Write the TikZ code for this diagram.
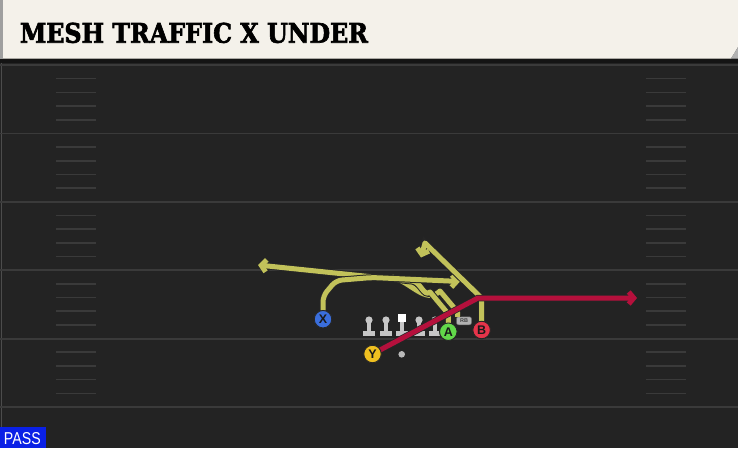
\documentclass[tikz,border=0pt]{standalone}
\usepackage{graphicx}
\usepackage{fontspec}
\setsansfont{Liberation Sans}
\newfontfamily\titlefont{DejaVu Serif}[BoldFeatures={FakeBold=2.5}]
\usetikzlibrary{arrows.meta}

\definecolor{fieldbg}{HTML}{232323}
\definecolor{headcream}{HTML}{F4F1EA}
\definecolor{yardgray}{HTML}{3A3A3A}
\definecolor{routeyellow}{HTML}{C2C25A}
\definecolor{routered}{HTML}{B5103C}
\definecolor{linemangray}{HTML}{C6C6C6}
\definecolor{xblue}{HTML}{3A6EDC}
\definecolor{yyellow}{HTML}{F0C020}
\definecolor{agreen}{HTML}{62D84A}
\definecolor{bred}{HTML}{E6344A}
\definecolor{passblue}{HTML}{0A20E6}

\begin{document}
\begin{tikzpicture}[x=1pt, y=-1pt]
    \tikzstyle{every node}=[inner sep=0pt, outer sep=0pt]
    \tikzstyle{yardline}=[draw=yardgray, line width=1.8pt]
    \tikzstyle{hashmark}=[draw=yardgray, line width=1.6pt]
    \tikzstyle{player}=[circle, minimum size=17.5pt, draw=black!85, line width=0.9pt,
                        font=\sffamily\bfseries\fontsize{12.5}{12.5}\selectfont, text=black!90]
    \tikzstyle{route}=[draw=routeyellow, line width=5pt, line join=round,
                       preaction={draw=black!85, line width=7pt},
                       -{Straight Barb[length=5pt, width=12pt]}]
    \tikzstyle{crosser}=[draw=routered, line width=5pt, line join=round,
                         preaction={draw=black!85, line width=6.5pt},
                         -{Straight Barb[length=5pt, width=12pt]}]
    \useasboundingbox (0,0) rectangle (738,448);
    \fill[fieldbg] (0,0) rectangle (738,448);
    % The header:
    \fill[headcream] (3,0) -- (738,0) -- (738,47) -- (731,58.5) -- (3,58.5) -- cycle;
    \fill[gray!75] (0,0) rectangle (3,58.5);
    \fill[gray!60] (738,47) -- (731,58.5) -- (738,58.5) -- cycle;
    \fill[black!92] (0,58.5) rectangle (738,62.5);
    \node[anchor=base west] (title) at (20,42.7)
        {\resizebox{348pt}{20pt}{\titlefont\bfseries MESH TRAFFIC X UNDER}};
    % The field:
    \draw[black!70, line width=1pt] (1,62.5) -- (1,448);
    \foreach \k in {0,...,5}
        \draw[yardline] (0,{65+68.4*\k}) -- (738,{65+68.4*\k});
    \foreach \k in {0,...,4}
        \foreach \j in {1,...,4} {
            \draw[hashmark] (56,{65+68.4*\k+13.68*\j}) -- (96,{65+68.4*\k+13.68*\j});
            \draw[hashmark] (646,{65+68.4*\k+13.68*\j}) -- (686,{65+68.4*\k+13.68*\j});
        }
    % The line:
    \foreach \lx in {369,386,402,419,435} {
        \fill[linemangray] (\lx-1.8,321) rectangle (\lx+1.8,331);
        \fill[linemangray] (\lx-5.8,330.5) rectangle (\lx+5.8,335.5);
    }
    \foreach \lx in {369,386,419,435}
        \fill[linemangray] (\lx,320) circle (3.6);
    \fill[white] (398.3,314.3) rectangle (405.7,321.7);
    \node[circle, fill=gray!55, minimum size=6.6pt] (ball) at (401.7,354.3) {};
    \node[rounded corners=2pt, fill=gray!60, draw=black!60, line width=0.5pt,
          minimum width=15pt, minimum height=8pt,
          font=\sffamily\bfseries\fontsize{5.5}{5.5}\selectfont, text=black!75] (rb) at (464,320.8) {RB};
    % The players:
    \node[player, fill=xblue] (x) at (323,319.2) {X};
    \node[player, fill=yyellow] (y) at (372.5,354) {Y};
    \node[player, fill=agreen] (a) at (448.3,331.7) {A};
    \node[player, fill=bred] (b) at (481.6,330) {B};
    % The routes:
    \coordinate (xturn) at (323,296);
    \coordinate (xend) at (460,281.5);
    \coordinate (aturn) at (430,292);
    \coordinate (aend) at (258,265);
    \coordinate (rbturn) at (440,291);
    \coordinate (rbend) at (392,277);
    \coordinate (bbreak) at (481.5,298);
    \coordinate (btop) at (425,243);
    \coordinate (bend) at (421,257.5);
    \coordinate (ybreak) at (478,298);
    \coordinate (yend) at (637,298);
    \draw[route, -] (rb.north west) ++(1,0) -- ++(0,-5) -- (rbturn) to[out=225, in=-15] (rbend);
    \draw[route] (a.north) -- ++(0,-9) -- (aturn) to[out=225, in=0] (412,281) -- (aend);
    \draw[route, rounded corners=6pt] (x.north) -- (xturn) -- (336,280.5) -- (372,277.5) -- (xend);
    \draw[route] (b.north) -- (bbreak) -- (btop) -- (bend);
    \draw[crosser] (y) -- (ybreak) -- (yend);
    \node[player, fill=xblue] at (x) {X};
    \node[player, fill=yyellow] at (y) {Y};
    \node[player, fill=agreen] at (a) {A};
    \node[player, fill=bred] at (b) {B};
    % The play type:
    \node[fill=passblue, minimum width=45.6pt, minimum height=21pt, anchor=south west] (pass) at (0,448) {};
    \node[anchor=base west, text=white] (passtext) at (4,444.3)
        {\resizebox{36.7pt}{12pt}{\sffamily PASS}};
\end{tikzpicture}
\end{document}
